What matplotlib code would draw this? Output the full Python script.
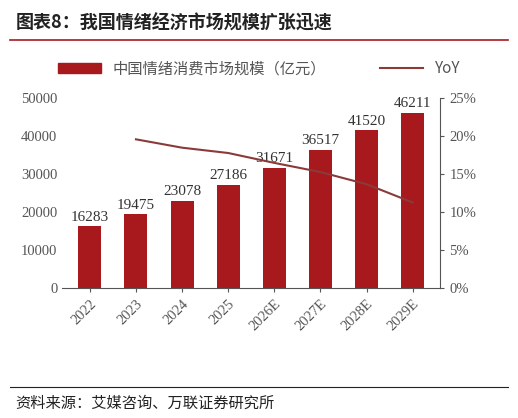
import matplotlib
matplotlib.use("Agg")
import matplotlib.pyplot as plt
from matplotlib.lines import Line2D

plt.rcParams['font.family'] = ['Noto Sans CJK SC', 'DejaVu Sans']

years = ["2022", "2023", "2024", "2025", "2026E", "2027E", "2028E", "2029E"]
market = [16283, 19475, 23078, 27186, 31671, 36517, 41520, 46211]
yoy_years = years[1:]
yoy = [19.6, 18.5, 17.8, 16.5, 15.3, 13.7, 11.3]

bar_color = "#A8191E"
line_color = "#8B3A3A"
grey = "#555555"

fig = plt.figure(figsize=(5.18, 4.18), dpi=100)
ax = fig.add_axes([0.12, 0.31, 0.73, 0.455])
x = range(len(years))
ax.bar(x, market, width=0.5, color=bar_color, label="中国情绪消费市场规模（亿元）")
for i, v in enumerate(market):
    ax.text(i, v + 700, str(v), ha="center", va="bottom", fontsize=11, color="#333333",
            family=["Liberation Serif", "DejaVu Serif"])
ax.set_ylim(0, 50000)
ax.set_yticks(range(0, 50001, 10000))
ax.set_xlim(-0.6, len(years) - 0.4)
ax.set_xticks(list(x))
ax.set_xticklabels(years, rotation=45, ha="right", rotation_mode="anchor")
for s in ("top", "right", "left"):
    ax.spines[s].set_visible(False)
ax.spines["bottom"].set_color(grey)
ax.tick_params(axis="both", colors=grey, labelsize=10.5, length=0)
ax.tick_params(axis="x", length=3, direction="out")

ax2 = ax.twinx()
ax2.plot(range(1, len(years)), yoy, color=line_color, lw=1.5)
ax2.set_ylim(0, 25)
ax2.set_yticks(range(0, 26, 5))
ax2.set_yticklabels([f"{v}%" for v in range(0, 26, 5)])
for s in ("top", "left", "bottom"):
    ax2.spines[s].set_visible(False)
ax2.spines["right"].set_color(grey)
ax2.tick_params(axis="y", colors=grey, labelsize=10.5, direction="out", length=3)

for lab in ax.get_xticklabels() + ax.get_yticklabels() + ax2.get_yticklabels():
    lab.set_family(["Liberation Serif", "DejaVu Serif"])

handles = [plt.Rectangle((0, 0), 1, 1, color=bar_color), Line2D([], [], color=line_color, lw=1.5)]
fig.legend(handles, ["中国情绪消费市场规模（亿元）", "YoY"], loc="center", ncol=2,
           bbox_to_anchor=(0.5, 0.835), frameon=False, fontsize=11, labelcolor=grey,
           handlelength=2.8, columnspacing=3.5)

fig.text(0.03, 0.945, "图表8：我国情绪经济市场规模扩张迅速", fontsize=13, weight="bold",
         color="#222222", va="center")
fig.add_artist(Line2D([0.02, 0.98], [0.905, 0.905], color=bar_color, lw=1.2))
fig.add_artist(Line2D([0.02, 0.98], [0.075, 0.075], color="#222222", lw=0.8))
fig.text(0.03, 0.035, "资料来源：艾媒咨询、万联证券研究所", fontsize=11, style="italic",
         color="#222222", va="center")

fig.savefig("out.png", dpi=100)
